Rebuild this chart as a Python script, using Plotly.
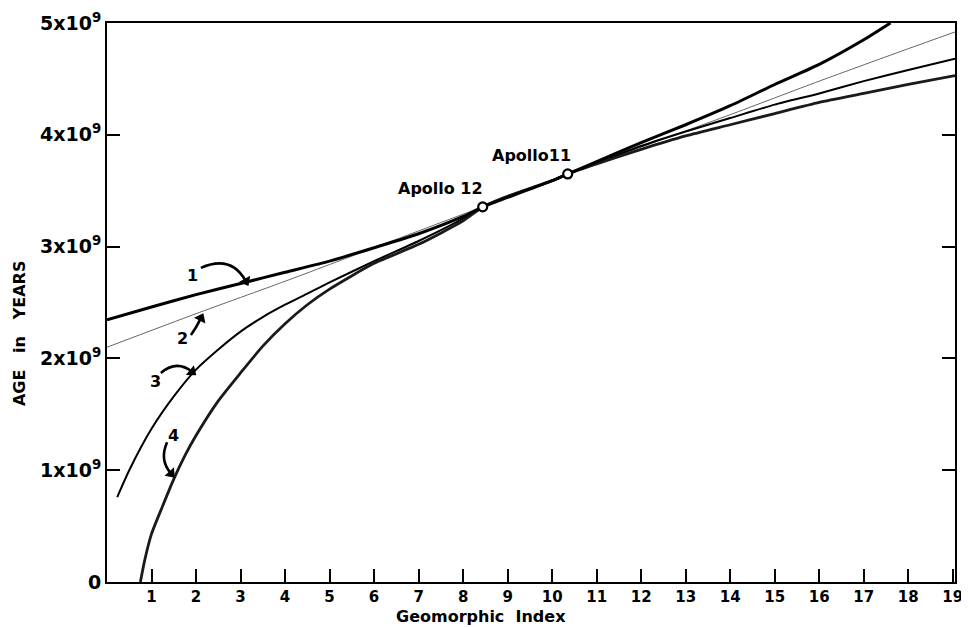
import math
import plotly.graph_objects as go

# ---- data (age in units of 10^9 years) ----
c1_x = [0, 1, 2, 3, 4, 5, 6, 7, 8, 8.44, 9, 10, 10.35, 11, 12, 13, 14, 15, 16, 17, 17.6]
c1_y = [2.346, 2.46, 2.57, 2.67, 2.77, 2.87, 2.99, 3.115, 3.27, 3.355, 3.44, 3.59, 3.65, 3.76, 3.93, 4.09, 4.26, 4.45, 4.63, 4.85, 5.0]

c2_x = [0, 2, 4, 6, 8, 8.44, 10, 10.35, 12, 14, 16, 18, 19.05]
c2_y = [2.10, 2.40, 2.69, 2.99, 3.29, 3.355, 3.59, 3.65, 3.89, 4.18, 4.48, 4.77, 4.92]

c3_x = [0.23, 0.5, 1.0, 1.5, 2.0, 2.5, 3.0, 3.5, 4.0, 4.5, 5.0, 6.0, 7.0, 8.0, 8.44, 9, 10, 10.35, 11, 12, 13, 14, 15, 16, 17, 18, 19.05]
c3_y = [0.76, 1.0, 1.37, 1.66, 1.90, 2.08, 2.24, 2.37, 2.48, 2.58, 2.68, 2.87, 3.05, 3.25, 3.355, 3.45, 3.59, 3.65, 3.75, 3.90, 4.03, 4.15, 4.27, 4.37, 4.48, 4.58, 4.68]

c4_x = [0.75, 0.85, 1.0, 1.25, 1.5, 1.75, 2.0, 2.5, 3.0, 3.5, 4.0, 4.5, 5.0, 6.0, 7.0, 8.0, 8.44, 9, 10, 10.35, 11, 12, 13, 14, 15, 16, 17, 18, 19.05]
c4_y = [0.0, 0.2, 0.43, 0.68, 0.92, 1.13, 1.31, 1.62, 1.87, 2.11, 2.31, 2.48, 2.62, 2.85, 3.02, 3.23, 3.355, 3.45, 3.59, 3.65, 3.74, 3.87, 3.99, 4.09, 4.19, 4.29, 4.37, 4.45, 4.53]

apollo_names = ["Apollo 12", "Apollo11"]
apollo_x = [8.44, 10.35]
apollo_y = [3.355, 3.65]

x_ticks = list(range(1, 20))
x_tick_labels = [str(v) for v in x_ticks]
y_ticks = [0, 1, 2, 3, 4, 5]
y_tick_labels = ["0", "1x10<sup>9</sup>", "2x10<sup>9</sup>", "3x10<sup>9</sup>", "4x10<sup>9</sup>", "5x10<sup>9</sup>"]

curve_labels = ["1", "2", "3", "4"]
label_x = [1.91, 1.69, 1.09, 1.50]
label_y = [2.74, 2.18, 1.79, 1.31]
# arrow start, control, end (data units)
arrow_start_x = [2.11, 1.885, 1.21, 1.35]
arrow_start_y = [2.81, 2.21, 1.87, 1.25]
arrow_ctrl_x = [2.79, 2.0, 1.57, 1.17]
arrow_ctrl_y = [2.93, 2.27, 1.99, 1.09]
arrow_end_x = [3.12, 2.11, 1.91, 1.44]
arrow_end_y = [2.69, 2.36, 1.88, 0.97]

FONT = "DejaVu Sans"

# layout geometry (page body adds an 8px offset)
W, H = 961, 619
ML, MR, MT, MB = 99, 14, 15, 45
XR = [0, 19.05]
YR = [0, 5]
px_per_x = (W - ML - MR) / (XR[1] - XR[0])
px_per_y = (H - MT - MB) / (YR[1] - YR[0])

fig = go.Figure()
fig.add_trace(go.Scatter(x=c2_x, y=c2_y, mode="lines",
                         line=dict(color="#555555", width=0.9, shape="spline", smoothing=0.6)))
fig.add_trace(go.Scatter(x=c3_x, y=c3_y, mode="lines",
                         line=dict(color="#000000", width=2, shape="spline", smoothing=0.6)))
fig.add_trace(go.Scatter(x=c4_x, y=c4_y, mode="lines",
                         line=dict(color="#1a1a1a", width=2.8, shape="spline", smoothing=0.6)))
fig.add_trace(go.Scatter(x=c1_x, y=c1_y, mode="lines",
                         line=dict(color="#000000", width=3, shape="spline", smoothing=0.6)))
fig.add_trace(go.Scatter(x=apollo_x, y=apollo_y, mode="markers",
                         marker=dict(symbol="circle", size=9, color="white",
                                     line=dict(color="black", width=2.2))))

# Apollo labels
fig.add_annotation(x=apollo_x[0], y=apollo_y[0], text="<b>" + apollo_names[0] + "</b>",
                   showarrow=False, xanchor="right", yanchor="bottom", xshift=2, yshift=7,
                   font=dict(family=FONT, size=16, color="black"))
fig.add_annotation(x=apollo_x[1], y=apollo_y[1], text="<b>" + apollo_names[1] + "</b>",
                   showarrow=False, xanchor="right", yanchor="bottom", xshift=5, yshift=7,
                   font=dict(family=FONT, size=16, color="black"))

# curve number labels and curved arrows
head_x, head_y, head_ang = [], [], []
for i in range(4):
    fig.add_annotation(x=label_x[i], y=label_y[i], text="<b>" + curve_labels[i] + "</b>",
                       showarrow=False, xanchor="center", yanchor="middle",
                       font=dict(family=FONT, size=16, color="black"))
    path = "M {},{} Q {},{} {},{}".format(arrow_start_x[i], arrow_start_y[i],
                                           arrow_ctrl_x[i], arrow_ctrl_y[i],
                                           arrow_end_x[i], arrow_end_y[i])
    fig.add_shape(type="path", path=path, xref="x", yref="y",
                  line=dict(color="black", width=2.6))
    dxp = (arrow_end_x[i] - arrow_ctrl_x[i]) * px_per_x
    dyp = -(arrow_end_y[i] - arrow_ctrl_y[i]) * px_per_y  # screen down positive
    head_ang.append(math.degrees(math.atan2(dxp, -dyp)))
    head_x.append(arrow_end_x[i])
    head_y.append(arrow_end_y[i])

fig.add_trace(go.Scatter(x=head_x, y=head_y, mode="markers",
                         marker=dict(symbol="triangle-up", size=11, color="black",
                                     angle=head_ang, line=dict(width=0))))

# axis titles
fig.add_annotation(xref="paper", yref="paper", x=0.441, y=-0.062, text="<b>Geomorphic  Index</b>",
                   showarrow=False, xanchor="center", yanchor="middle",
                   font=dict(family=FONT, size=16, color="black"))
fig.add_annotation(xref="paper", yref="paper", x=-0.104, y=0.445, text="<b>AGE   in   YEARS</b>",
                   textangle=-90, showarrow=False, xanchor="center", yanchor="middle",
                   font=dict(family=FONT, size=16, color="black"))

fig.update_layout(
    width=W, height=H,
    margin=dict(l=ML, r=MR, t=MT, b=MB),
    paper_bgcolor="white", plot_bgcolor="white",
    showlegend=False,
    xaxis=dict(range=XR, tickvals=x_ticks, ticktext=x_tick_labels, automargin=False,
               ticks="inside", ticklen=13, tickwidth=1.5, tickcolor="black",
               showline=True, linewidth=2, linecolor="black", mirror=True,
               showgrid=False, zeroline=False,
               tickfont=dict(family=FONT, size=15, color="black", weight="bold")),
    yaxis=dict(range=YR, tickvals=y_ticks, ticktext=y_tick_labels, automargin=False,
               ticks="inside", ticklen=13, tickwidth=1.5, tickcolor="black",
               showline=True, linewidth=2, linecolor="black", mirror="ticks",
               showgrid=False, zeroline=False,
               tickfont=dict(family=FONT, size=19, color="black", weight="bold")),
)

fig.write_html("out.html")
